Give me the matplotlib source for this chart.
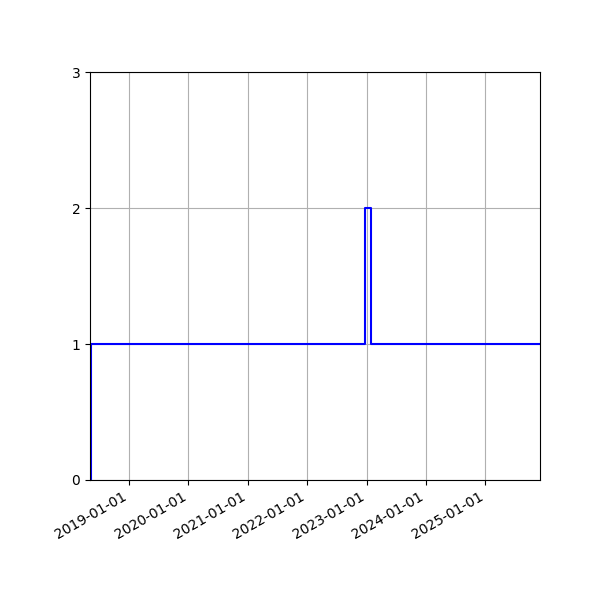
import numpy as np
import matplotlib
matplotlib.use('Agg')
import matplotlib.pyplot as plt
import matplotlib.dates as mdates

dates = np.array(['2018-05-06', '2018-05-11', '2022-12-20', '2023-01-30', '2025-12-03'],
                 dtype='datetime64[D]')
counts = [0, 1, 2, 1, 1]

fig, ax = plt.subplots(figsize=(6, 6), dpi=100)
ax.plot(dates, counts, drawstyle='steps-post', color='blue', linewidth=1.5)
ax.set_xlim(dates[0], dates[-1])
ax.set_ylim(0, 3)
ax.set_yticks([0, 1, 2, 3])
ax.xaxis.set_major_locator(mdates.YearLocator())
ax.xaxis.set_major_formatter(mdates.DateFormatter('%Y-%m-%d'))
ax.grid(True)
fig.autofmt_xdate()
fig.subplots_adjust(left=0.15, right=0.9, top=0.88, bottom=0.2)
fig.savefig('out.png')
